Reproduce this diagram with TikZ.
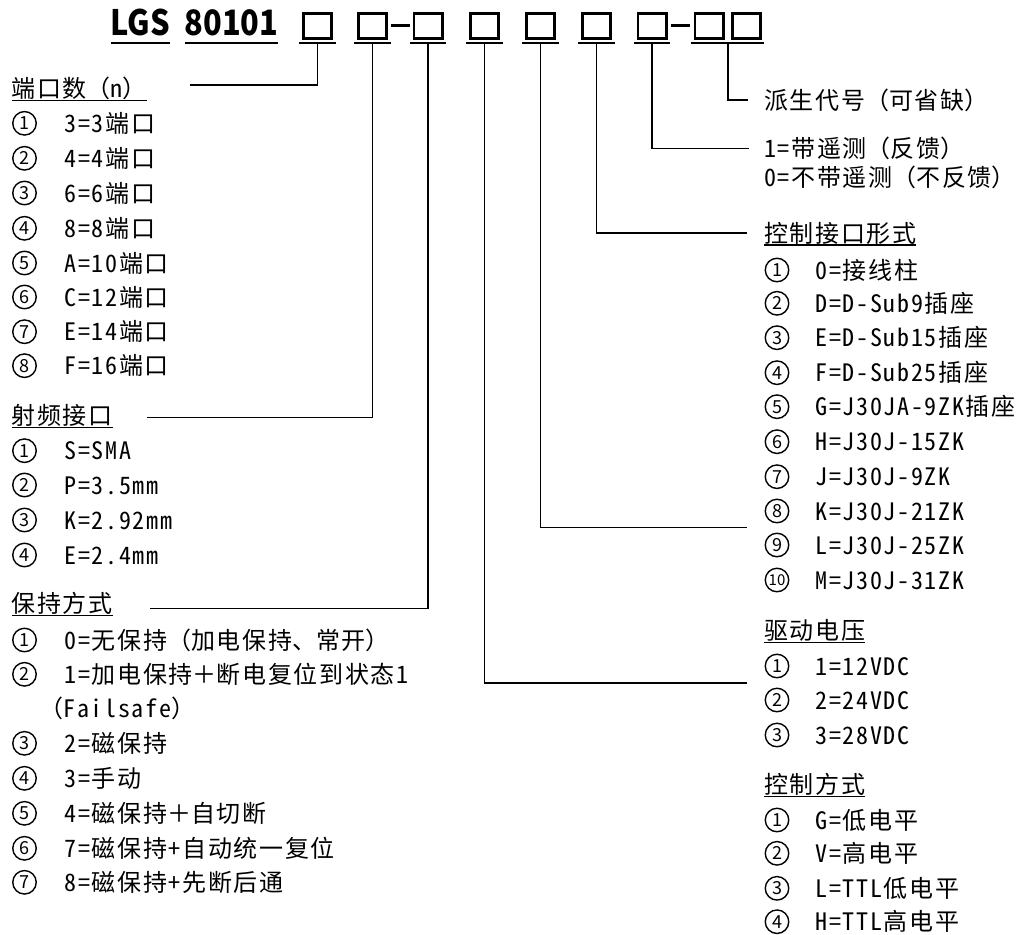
\documentclass[tikz,border=0pt]{standalone}
\usepackage{fontspec}
\setmainfont{Noto Sans CJK SC}
\newfontfamily\bdfam{Noto Sans CJK SC}[RawFeature=+hwid, LetterSpace=7]
\newfontfamily\fwfam{Noto Sans CJK SC}[LetterSpace=7]
\newfontfamily\ttlfam{Noto Sans CJK SC}[FakeStretch=0.88]
\newfontfamily\cnfam{Noto Sans CJK SC}
\usetikzlibrary{calc}
\newcommand{\bdfont}{\bdfam\fontsize{24}{30}\selectfont}
\newcommand{\ttlfont}{\ttlfam\fontsize{35}{40}\selectfont\bfseries}
\newcommand{\cnfont}{\cnfam\fontsize{18}{20}\selectfont}
\newcommand{\fw}[1]{{\fwfam #1}}
\tikzset{
  conn/.style={line width=1.6pt},
  tline/.style={line width=2pt},
  hline/.style={line width=1.2pt},
  pbox/.style={draw, line width=2.8pt, minimum width=28.2pt, minimum height=25.2pt, inner sep=0pt, outer sep=0pt},
  circ/.style={draw, shape=circle, line width=1.4pt, minimum width=23.5pt, minimum height=23.5pt, inner sep=0pt, outer sep=0pt, font=\cnfont},
  itm/.style={anchor=base west, inner sep=0pt, outer sep=0pt, font=\bdfont},
  hdr/.style={anchor=base west, inner sep=0pt, outer sep=0pt, font=\bdfont},
  ttl/.style={anchor=base west, inner sep=0pt, outer sep=0pt, font=\ttlfont},
}
\begin{document}
\begin{tikzpicture}[x=1pt,y=-1pt]
\fill[white] (0,0) rectangle (1027,934);
\useasboundingbox (0,0) rectangle (1027,934);

% ---------- title ----------
\node[ttl] (lgs) at (110.5,36) {LGS};
\node[ttl] (num) at (184.5,36) {80101};
\draw[tline] ([yshift=-7.3pt]lgs.base west) -- ([yshift=-7.3pt]lgs.base east);
\draw[tline] ([yshift=-7.3pt]num.base west) -- ([yshift=-7.3pt]num.base east);

\node[pbox] (b1) at (317.5,26) {};
\node[pbox] (b2) at (372.5,26) {};
\node[pbox] (b3) at (428,26) {};
\node[pbox] (b4) at (484.5,26) {};
\node[pbox] (b5) at (540.5,26) {};
\node[pbox] (b6) at (596.5,26) {};
\node[pbox] (b7) at (652,26) {};
\node[pbox] (b8a) at (709,26) {};
\node[pbox] (b8b) at (746.7,26) {};
\foreach \b in {b1,b2,b3,b4,b5,b6,b7}{
  \draw[tline] ($(\b.west)+(-4,17.3)$) -- ($(\b.east)+(4,17.3)$);
}
\draw[tline] ($(b8a.west)+(-4,17.3)$) -- ($(b8b.east)+(3,17.3)$);
\draw[line width=3pt] ($(b2.east)+(4,0)$) -- ($(b3.west)+(-4,0)$);
\draw[line width=3pt] ($(b7.east)+(4.5,0)$) -- ($(b8a.west)+(-4.5,0)$);
\coordinate (b8) at ($(b8a.south east)!0.5!(b8b.south west)$);

% ---------- left column ----------
\node[hdr] (h1) at (11.5,97.7) {端口数\fw{（}n\fw{）}};
\draw[hline] ([yshift=-3pt]h1.base west) -- ([yshift=-3pt]h1.base east);
\foreach \y/\t [count=\i] in {123.3/3=3端口, 158.3/4=4端口, 193/6=6端口, 228.3/8=8端口, 263/A=10端口, 297/C=12端口, 331.7/E=14端口, 365.7/F=16端口}{
  \node[circ] (pn\i) at (24.5,\y) {\i};
  \node[itm] (pt\i) at (64.5,\y+9) {\t};
}

\node[hdr] (h2) at (11.5,424.7) {射频接口};
\draw[hline] ([yshift=-3pt]h2.base west) -- ([yshift=-3pt]h2.base east);
\foreach \y/\t [count=\i] in {450.7/S=SMA, 485/P=3.5mm, 520/K=2.92mm, 555/E=2.4mm}{
  \node[circ] (rn\i) at (24.5,\y) {\i};
  \node[itm] (rt\i) at (64.5,\y+9) {\t};
}

\node[hdr] (h3) at (11.5,612.7) {保持方式};
\draw[hline] ([yshift=-3pt]h3.base west) -- ([yshift=-3pt]h3.base east);
\foreach \y/\t [count=\i] in {640/{0=无保持\fw{（}加电保持\fw{、}常开\fw{）}}, 674.3/{1=加电保持\fw{＋}断电复位到状态1}, 743.3/2=磁保持, 778.3/3=手动, 813.3/{4=磁保持\fw{＋}自切断}, 848.3/7=磁保持+自动统一复位, 882.3/8=磁保持+先断后通}{
  \node[circ] (kn\i) at (24.5,\y) {\i};
  \node[itm] (kt\i) at (64.5,\y+9) {\t};
}
\node[itm] (kfs) at (39.5,717.3) {\fw{（}Failsafe\fw{）}};

% ---------- right column ----------
\node[hdr] (h8) at (764,109.5) {派生代号\fw{（}可省缺\fw{）}};
\node[hdr] (h7a) at (764,157.5) {1=带遥测\fw{（}反馈\fw{）}};
\node[hdr] (h7b) at (764,186.5) {0=不带遥测\fw{（}不反馈\fw{）}};

\node[hdr] (h6) at (764,242) {控制接口形式};
\draw[hline] ([yshift=-3pt]h6.base west) -- ([yshift=-3pt]h6.base east);
\foreach \y/\t [count=\i] in {270/0=接线柱, 303.3/D=D-Sub9插座, 337.7/E=D-Sub15插座, 372.7/F=D-Sub25插座, 406.7/G=J30JA-9ZK插座, 441.7/H=J30J-15ZK, 476.7/J=J30J-9ZK, 511/K=J30J-21ZK, 545/L=J30J-25ZK, 580/M=J30J-31ZK}{
  \ifnum\i=10
    \node[circ, font=\cnfam\fontsize{15}{16}\selectfont] (cn\i) at (777,\y) {\i};
  \else
    \node[circ] (cn\i) at (777,\y) {\i};
  \fi
  \node[itm] (ct\i) at (815.5,\y+9) {\t};
}

\node[hdr] (h4) at (764,639.3) {驱动电压};
\draw[hline] ([yshift=-3pt]h4.base west) -- ([yshift=-3pt]h4.base east);
\foreach \y/\t [count=\i] in {666/1=12VDC, 700/2=24VDC, 735/3=28VDC}{
  \node[circ] (vn\i) at (777,\y) {\i};
  \node[itm] (vt\i) at (815.5,\y+9) {\t};
}

\node[hdr] (h5) at (764,793.7) {控制方式};
\draw[hline] ([yshift=-3pt]h5.base west) -- ([yshift=-3pt]h5.base east);
\foreach \y/\t [count=\i] in {820/G=低电平, 853.3/V=高电平, 888.3/L=TTL低电平, 921.7/H=TTL高电平}{
  \node[circ] (mn\i) at (777,\y) {\i};
  \node[itm] (mt\i) at (815.5,\y+9) {\t};
}

% ---------- connectors ----------
\coordinate (e1) at (190,85);
\coordinate (e2) at (146.7,417.3);
\coordinate (e3) at (150,608.3);
\coordinate (e4) at (746.7,682.7);
\coordinate (e5) at (746.7,527.3);
\coordinate (e6) at (746.7,232.7);
\coordinate (e7) at (749,148.3);
\coordinate (e8) at (748,100);
\draw[conn] ([yshift=-5.5pt]b1.south) |- (e1);
\draw[conn] ([yshift=-5.5pt]b2.south) |- (e2);
\draw[conn] ([yshift=-5.5pt]b3.south) |- (e3);
\draw[conn] ([yshift=-5.5pt]b4.south) |- (e4);
\draw[conn] ([yshift=-5.5pt]b5.south) |- (e5);
\draw[conn] ([yshift=-5.5pt]b6.south) |- (e6);
\draw[conn] ([yshift=-5.5pt]b7.south) |- (e7);
\draw[conn] ([yshift=-5.5pt]b8) |- (e8);
\end{tikzpicture}
\end{document}
